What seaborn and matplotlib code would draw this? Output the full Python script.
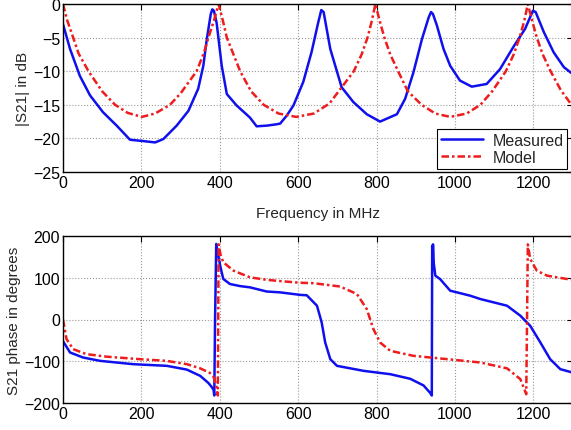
import numpy as np
import pandas as pd
import matplotlib
matplotlib.use("Agg")
import matplotlib.pyplot as plt
import seaborn as sns

# |S21| magnitude, measured (MHz, dB)
meas_mag_f = [0, 18, 43, 69, 102, 137, 171, 205, 235, 256, 290, 320, 345, 358, 367, 377, 381,
              385, 392, 405, 418, 443, 477, 494, 520, 545, 554, 571, 588, 613, 634, 651, 659,
              665, 682, 711, 741, 775, 809, 852, 873, 894, 916, 933, 939, 944, 954, 971, 988,
              1013, 1043, 1081, 1115, 1149, 1179, 1199, 1206, 1227, 1252, 1278, 1300]
meas_mag_db = [-3.0, -6.7, -10.7, -13.6, -16.1, -18.1, -20.2, -20.4, -20.6, -20.1, -18.1, -15.9,
               -12.6, -9.2, -5.2, -1.5, -0.8, -1.0, -2.8, -9.2, -13.4, -15.1, -16.9, -18.2,
               -18.1, -17.9, -17.8, -16.6, -15.1, -11.6, -7.2, -2.8, -0.9, -1.2, -6.7, -12.4,
               -14.6, -16.4, -17.5, -16.4, -14.1, -10.2, -5.2, -2.0, -1.2, -1.5, -3.2, -6.7,
               -9.2, -11.4, -12.3, -11.9, -9.7, -6.4, -3.7, -1.0, -1.2, -4.2, -7.2, -9.4, -10.4]

# |S21| magnitude, model
model_mag_f = [0, 10, 26, 40, 65, 100, 133, 165, 201, 235, 273, 300, 341, 360, 371, 385, 397,
               408, 418, 435, 452, 480, 512, 550, 595, 640, 680, 711, 742, 762, 777, 788, 797,
               808, 820, 835, 855, 880, 915, 950, 988, 1030, 1065, 1095, 1130, 1150, 1165,
               1177, 1186, 1197, 1209, 1224, 1244, 1270, 1300]
model_mag_db = [0, -2.3, -5.0, -7.4, -10.0, -13.0, -15.0, -16.2, -16.8, -16.3, -15.0, -13.3,
                -10.0, -7.2, -5.0, -2.5, 0, -2.5, -5.0, -7.5, -10.0, -13.0, -15.0, -16.3, -16.8,
                -16.3, -14.8, -12.4, -10.0, -7.5, -5.0, -2.5, 0, -2.5, -5.0, -7.5, -10.0, -13.0,
                -15.0, -16.3, -16.8, -16.3, -15.0, -13.0, -10.0, -7.5, -5.0, -2.5, 0, -2.5,
                -5.0, -7.5, -10.0, -12.8, -15.2]

# S21 phase, measured (MHz, degrees)
meas_ph_f = [0, 18, 51, 94, 179, 265, 316, 350, 371, 378, 384, 386, 388, 391, 395, 401, 409,
             426, 452, 477, 520, 554, 605, 622, 648, 660, 669, 682, 699, 767, 835, 886, 920,
             937, 941, 942, 943, 944, 946, 950, 962, 988, 1039, 1065, 1133, 1167, 1192, 1218,
             1243, 1269, 1300]
meas_ph_deg = [-52, -79, -91, -99, -107, -111, -120, -135, -152, -160, -168, -182, 0, 181, 160,
               129, 97, 85, 80, 77, 67, 65, 59, 58, 33, -7, -55, -95, -111, -123, -131, -142,
               -158, -176, -182, 176, 125, 180, 135, 105, 97, 69, 57, 49, 33, 9, -15, -55, -95,
               -119, -127]

# S21 phase, model
model_ph_f = [0, 9, 26, 60, 111, 196, 264, 316, 350, 375, 384, 391, 395, 396, 397, 402, 409,
              435, 477, 520, 554, 605, 639, 707, 750, 775, 792, 809, 835, 894, 980, 1065, 1133,
              1167, 1182, 1184, 1186, 1192, 1209, 1235, 1286, 1300]
model_ph_deg = [0, -47, -71, -83, -89, -95, -99, -107, -117, -128, -137, -158, -182, 0, 180, 155,
                137, 117, 101, 95, 92, 88, 87, 79, 61, 25, -23, -55, -75, -87, -95, -103, -117,
                -143, -179, 0, 180, 145, 117, 105, 97, 96]

sns.set_style("whitegrid")
plt.rcParams['font.family'] = ['Liberation Sans', 'DejaVu Sans']
plt.rcParams['font.size'] = 11.5

fig = plt.figure(figsize=(5.71, 4.31), dpi=100)
ax1 = fig.add_axes([63 / 571, 1 - 173 / 431, 509.5 / 571, 168 / 431])
ax2 = fig.add_axes([63 / 571, 1 - 404 / 431, 509.5 / 571, 167 / 431])

top = pd.concat([
    pd.DataFrame({'f': meas_mag_f, 'v': meas_mag_db, 'curve': 'Measured'}),
    pd.DataFrame({'f': model_mag_f, 'v': model_mag_db, 'curve': 'Model'}),
])
bot = pd.concat([
    pd.DataFrame({'f': meas_ph_f, 'v': meas_ph_deg, 'curve': 'Measured'}),
    pd.DataFrame({'f': model_ph_f, 'v': model_ph_deg, 'curve': 'Model'}),
])

pal = {'Measured': '#1010ee', 'Model': '#ee1c1c'}
for ax, d in [(ax1, top), (ax2, bot)]:
    for name in ['Measured', 'Model']:
        sub = d[d['curve'] == name]
        line = sns.lineplot(x=sub['f'].values, y=sub['v'].values, ax=ax, color=pal[name],
                            linewidth=1.8, estimator=None, sort=False, label=name).lines[-1]
        if name == 'Model':
            line.set_dashes([3, 1.2, 1, 1.2])
    ax.set_xlim(0, 1300)
    ax.set_xticks([0, 200, 400, 600, 800, 1000, 1200])
    ax.grid(True, linestyle=':', color='#999999', linewidth=0.8)
    ax.tick_params(direction='in', top=True, right=True, length=4, labelsize=11.5,
                   colors='black', pad=2)
    for s in ax.spines.values():
        s.set_color('black')
        s.set_linewidth(1.0)

ax1.set_ylim(-25, 0)
ax1.set_yticks([0, -5, -10, -15, -20, -25])
ax1.set_ylabel('|S21| in dB', fontsize=11, labelpad=2)
ax1.set_xlabel('Frequency in MHz', fontsize=11, labelpad=12)
leg = ax1.legend(loc='lower right', bbox_to_anchor=(0.99, 0.02), borderaxespad=0,
                 fancybox=False, edgecolor='black', framealpha=1, fontsize=11.5,
                 handlelength=2.6, borderpad=0.25, labelspacing=0.1, handletextpad=0.6)
leg.get_frame().set_linewidth(0.8)

ax2.set_ylim(-200, 200)
ax2.set_yticks([-200, -100, 0, 100, 200])
ax2.set_ylabel('S21 phase in degrees', fontsize=11, labelpad=2)
ax2.legend_.remove()

fig.savefig('out.png', dpi=100)
